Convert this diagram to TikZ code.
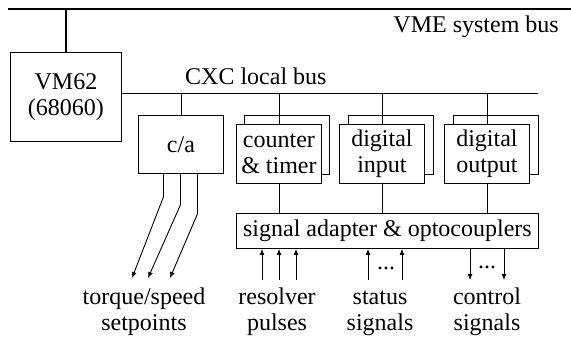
\documentclass[tikz,border=0pt]{standalone}
\usepackage{fontspec}
\setmainfont{Liberation Serif}
\usetikzlibrary{arrows.meta,calc}

\begin{document}
\begin{tikzpicture}[x=1pt,y=-1pt,
  every node/.style={font=\fontsize{24}{25.5}\selectfont},
  box/.style={draw,line width=0.9pt,fill=white,inner sep=0pt,anchor=north west,align=center},
  wire/.style={line width=0.9pt},
  bus/.style={line width=2.6pt},
  sig/.style={line width=0.9pt,-{Latex[length=6pt,width=5pt]}},
  lbl/.style={inner sep=0pt,align=center}
]
\useasboundingbox (0,0) rectangle (571,341);

% system bus and CPU board
\coordinate (vmeL) at (8,9);
\coordinate (vmeR) at (571,9);
\draw[bus] (vmeL) -- (vmeR);
\node[lbl,anchor=base east] (vmelbl) at (559,32) {VME system bus};

\node[box,minimum width=111pt,minimum height=89pt] (vm) at (10,52) {VM62\\(68060)};
\draw[bus] (vm.north) -- (vm.north |- vmeL);

% local bus
\coordinate (cxcR) at (538,93);
\draw[wire] (cxcR -| vm.east) -- (cxcR);
\node[lbl,anchor=base west] (cxclbl) at (185,84) {CXC local bus};

% I/O boards (stacked cards)
\node[box,minimum width=85pt,minimum height=58pt] (ca) at (138,115) {c/a};
\node[box,minimum width=85pt,minimum height=59pt] (ctback) at (244,115) {};
\node[box,minimum width=85pt,minimum height=59pt] (diback) at (348,115) {};
\node[box,minimum width=85pt,minimum height=59pt] (doback) at (453,115) {};
\node[box,minimum width=85pt,minimum height=59pt] (ct) at (236,124) {counter\\\& timer};
\node[box,minimum width=85pt,minimum height=59pt] (di) at (339,124) {digital\\input};
\node[box,minimum width=85pt,minimum height=59pt] (dout) at (444,124) {digital\\output};

\foreach \b in {ca,ct,di,dout}
  \draw[wire] (\b.north |- cxcR) -- (\b.north);

% signal adapter
\node[box,minimum width=302pt,minimum height=35pt] (sa) at (236,213) {signal adapter \& optocouplers};
\foreach \b in {ct,di,dout}
  \draw[wire] (\b.south) -- (\b.south |- sa.north);

% analog setpoint outputs
\coordinate (ta1) at (132,278);
\coordinate (ta2) at (148,278);
\coordinate (ta3) at (170,278);
\draw[sig] ($(ca.south)+(-17.5,0)$) -- ++(0,23) -- (ta1);
\draw[sig] ($(ca.south)+(-0.5,0)$) -- ++(0,31) -- (ta2);
\draw[sig] ($(ca.south)+(16.5,0)$) -- ++(0,40) -- (ta3);

% resolver and status inputs
\foreach \n/\x in {r1/262,r2/279,r3/296,s1/368,s2/402}{
  \coordinate (\n) at (\x,280);
  \draw[sig] (\n) -- (\n |- sa.south);
}
% control outputs
\foreach \n/\x in {c1/470,c2/504}{
  \coordinate (\n) at (\x,280);
  \draw[sig] (\n |- sa.south) -- (\n);
}
\node[lbl,anchor=base] (sdots) at (386,269) {...};
\node[lbl,anchor=base] (cdots) at (487,268) {...};

% signal labels (anchored at the baseline of the second line)
\node[lbl,anchor=base] (tqlbl) at (144,330) {torque/speed\\setpoints};
\node[lbl,anchor=base] (rslbl) at (277,330) {resolver\\pulses};
\node[lbl,anchor=base] (stlbl) at (380,330) {status\\signals};
\node[lbl,anchor=base] (crlbl) at (487,330) {control\\signals};
\end{tikzpicture}
\end{document}
